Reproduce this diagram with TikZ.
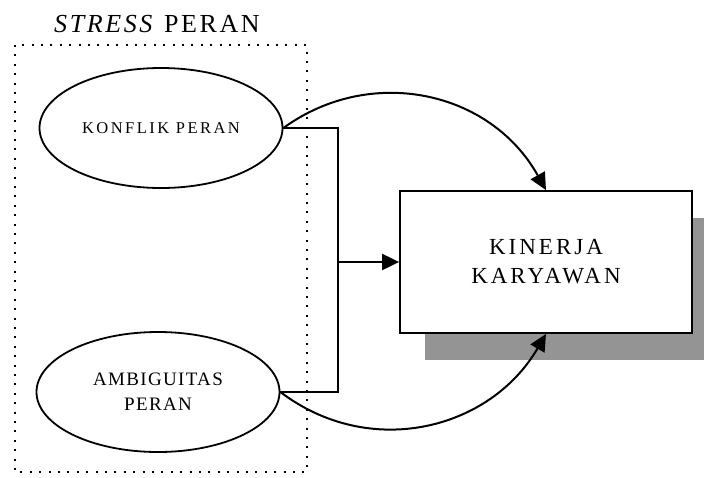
\documentclass[tikz,border=0pt]{standalone}
\usepackage{fontspec}
\setmainfont{Liberation Serif}
\usetikzlibrary{arrows.meta,shapes.geometric,shadows}
\begin{document}
\begin{tikzpicture}[
        x=1pt, y=-1pt,
        var/.style={ellipse, draw, line width=1.8pt, minimum width=243pt, minimum height=120pt, align=center, inner sep=0pt},
        result/.style={rectangle, draw, line width=1.8pt, fill=white, minimum width=292pt, minimum height=142pt, align=center,
            drop shadow={shadow xshift=25pt, shadow yshift=-27pt, fill=black!42, opacity=1}},
        link/.style={line width=2pt},
        arrowlink/.style={link, -{Triangle[length=17pt, width=16pt]}},
        ]
        \useasboundingbox (0,0) rectangle (704,477);
        % Group box for the two independent variables
        \draw[line width=2pt, dash pattern=on 2pt off 7.4pt] (15,45) rectangle (307,472);
        \node[font=\fontsize{26}{30}\selectfont\addfontfeature{LetterSpace=10}] (title) at (157,24) {\textit{STRESS} PERAN};

        % Variables
        \node[var, font=\fontsize{16.5}{18}\selectfont\addfontfeature{LetterSpace=15}] (konflik) at (161,128) {KONFLIK PERAN};
        \node[var, font=\fontsize{19}{25}\selectfont\addfontfeature{LetterSpace=7}] (ambiguitas) at (158,392) {AMBIGUITAS\\PERAN};
        \node[result, font=\fontsize{23}{29}\selectfont\addfontfeature{LetterSpace=13}] (kinerja) at (546,262) {KINERJA\\KARYAWAN};

        % Joint effect
        \coordinate (join) at (338,262);
        \draw[link] (konflik.east) -| (join) |- (ambiguitas.east);
        \draw[arrowlink] (join) -- (kinerja.west);

        % Partial effects
        \draw[arrowlink] (konflik.east) .. controls (370,65) and (490,90) .. (kinerja.north);
        \draw[arrowlink] (ambiguitas.east) .. controls (370,460) and (490,430) .. (kinerja.south);
    \end{tikzpicture}
\end{document}
